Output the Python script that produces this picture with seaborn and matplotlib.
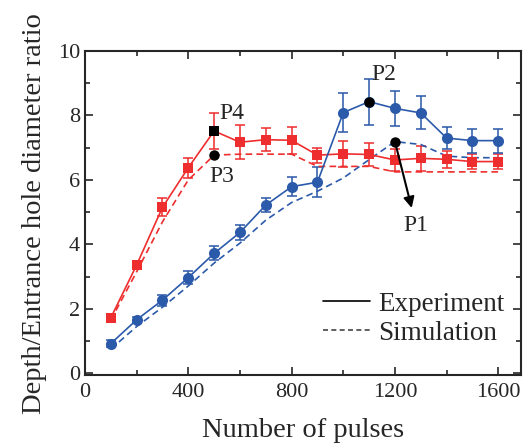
import numpy as np
import pandas as pd
import matplotlib
matplotlib.use("Agg")
import matplotlib.pyplot as plt
import seaborn as sns
from matplotlib.ticker import MultipleLocator
from matplotlib.lines import Line2D

# ---------------- data ----------------
pulses = [100, 200, 300, 400, 500, 600, 700, 800, 900, 1000, 1100, 1200, 1300, 1400, 1500, 1600]

red_exp = [1.72, 3.36, 5.15, 6.38, 7.52, 7.17, 7.25, 7.23, 6.77, 6.81, 6.79, 6.62, 6.67, 6.64, 6.57, 6.57]
red_err = [0.08, 0.1, 0.28, 0.31, 0.57, 0.52, 0.36, 0.41, 0.23, 0.4, 0.37, 0.33, 0.38, 0.26, 0.23, 0.23]
red_sim = [1.65, 3.15, 4.7, 6.0, 6.77, 6.8, 6.8, 6.8, 6.42, 6.42, 6.42, 6.25, 6.25, 6.25, 6.25, 6.25]

blue_exp = [0.92, 1.66, 2.27, 2.97, 3.72, 4.37, 5.22, 5.79, 5.93, 8.09, 8.43, 8.22, 8.08, 7.3, 7.22, 7.22]
blue_err = [0.1, 0.1, 0.17, 0.21, 0.22, 0.23, 0.21, 0.3, 0.47, 0.6, 0.71, 0.55, 0.51, 0.34, 0.37, 0.37]
blue_sim = [0.75, 1.45, 2.05, 2.71, 3.42, 4.04, 4.75, 5.3, 5.65, 6.06, 6.63, 7.19, 7.1, 6.74, 6.69, 6.69]

# highlighted points
pts_x = [1200, 1100, 500, 500]
pts_y = [7.19, 8.43, 6.77, 7.52]
pts_lab = ["P1", "P2", "P3", "P4"]
pts_mk = ["o", "o", "o", "s"]

RED = "#EE2E2E"
BLUE = "#2C5AAA"

sns.set_style("ticks")
plt.rcParams["font.family"] = ["Liberation Serif", "DejaVu Serif"]
plt.rcParams["mathtext.fontset"] = "stix"

fig = plt.figure(figsize=(5.24, 4.44), dpi=100)
ax = fig.add_axes([0.1622, 0.155, 0.833, 0.730])

df = pd.DataFrame({
    "pulses": pulses * 4,
    "ratio": red_exp + red_sim + blue_exp + blue_sim,
    "kind": ["exp"] * 16 + ["sim"] * 16 + ["exp"] * 16 + ["sim"] * 16,
    "grp": ["red"] * 32 + ["blue"] * 32,
})

# error bars
ax.errorbar(pulses, red_exp, yerr=red_err, fmt="none", ecolor=RED, elinewidth=1.4,
            capsize=3.5, capthick=1.4, alpha=0.8, zorder=2)
ax.errorbar(pulses, blue_exp, yerr=blue_err, fmt="none", ecolor=BLUE, elinewidth=1.4,
            capsize=3.5, capthick=1.4, alpha=0.8, zorder=2)

# simulation (dashed)
sns.lineplot(data=df[(df.kind == "sim") & (df.grp == "red")], x="pulses", y="ratio",
             color=RED, lw=1.2, ax=ax, legend=False, zorder=3)
sns.lineplot(data=df[(df.kind == "sim") & (df.grp == "blue")], x="pulses", y="ratio",
             color=BLUE, lw=1.2, ax=ax, legend=False, zorder=3)
for ln in ax.lines[-2:]:
    ln.set_dashes([4, 2.5])

# experiment (solid with markers)
sns.lineplot(data=df[(df.kind == "exp") & (df.grp == "red")], x="pulses", y="ratio",
             color=RED, lw=1.2, marker="s", markersize=7, markeredgewidth=0,
             ax=ax, legend=False, zorder=4)
sns.lineplot(data=df[(df.kind == "exp") & (df.grp == "blue")], x="pulses", y="ratio",
             color=BLUE, lw=1.2, marker="o", markersize=8, markeredgewidth=0,
             ax=ax, legend=False, zorder=4)

# black highlighted points
for x, y, m in zip(pts_x, pts_y, pts_mk):
    ax.plot(x, y, marker=m, color="black", markersize=7.5, markeredgewidth=0, zorder=6)

ax.annotate("", xy=(1265, 5.13), xytext=(1200, 7.19),
            arrowprops=dict(arrowstyle="-|>", color="black", lw=1.5, mutation_scale=16,
                            shrinkA=0, shrinkB=0), zorder=6)
lab_pos = [(1281, 4.6), (1155, 9.28), (529, 6.12), (568, 8.07)]
for (lx, ly), t in zip(lab_pos, pts_lab):
    ax.text(lx, ly, t, fontsize=17, ha="center", va="center")

ax.set_xlim(0, 1690)
ax.set_ylim(-0.06, 10)
ax.xaxis.set_major_locator(MultipleLocator(400))
ax.xaxis.set_minor_locator(MultipleLocator(200))
ax.yaxis.set_major_locator(MultipleLocator(2))
ax.yaxis.set_minor_locator(MultipleLocator(1))
ax.tick_params(which="both", direction="in", top=True, right=True, width=1.2, labelsize=16)
ax.tick_params(which="major", length=6)
ax.tick_params(which="minor", length=3.5)
ax.tick_params(axis="x", pad=5.5)
for s in ax.spines.values():
    s.set_linewidth(1.5)

ax.set_xlabel("Number of pulses", fontsize=20.5, labelpad=12)
ax.set_ylabel("Depth/Entrance hole diameter ratio", fontsize=20.5, labelpad=8)

handles = [Line2D([], [], color="black", lw=1.2),
           Line2D([], [], color="#444444", lw=1.2, dashes=[3, 2])]
ax.legend(handles, ["Experiment", "Simulation"], loc="upper left", frameon=False,
          fontsize=19.5, handlelength=1.75, handletextpad=0.3, labelspacing=0.15,
          borderpad=0, borderaxespad=0, bbox_to_anchor=(0.545, 0.258))

fig.savefig("out.png", dpi=100)
